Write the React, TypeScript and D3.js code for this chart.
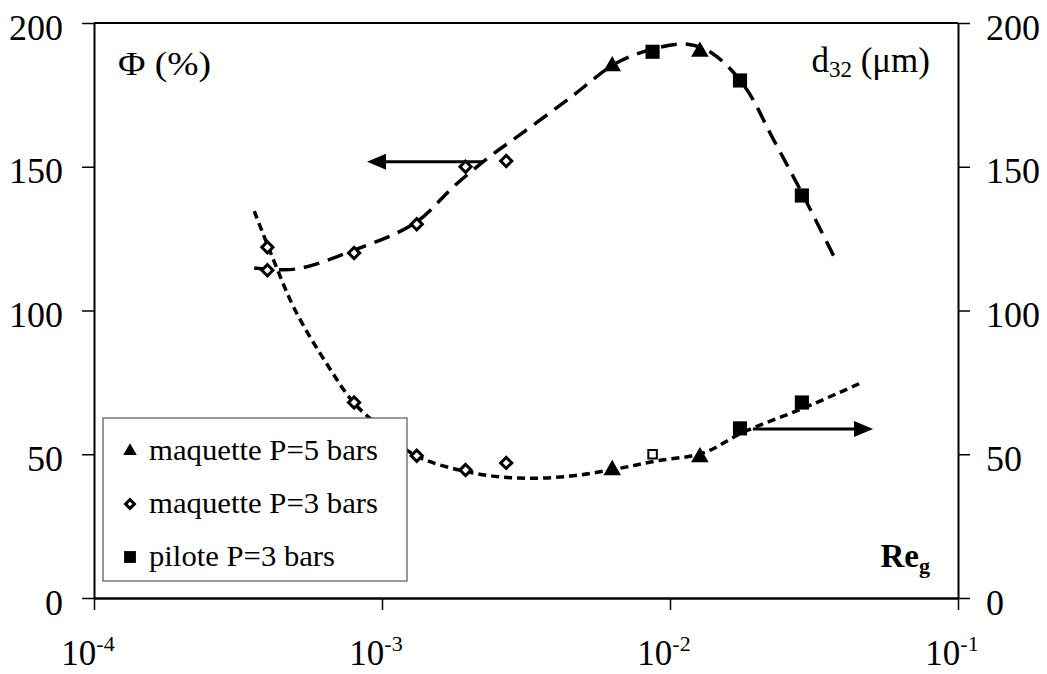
import React, { useEffect, useRef } from 'react';
import * as d3 from 'd3';

// Re_g values of the experiments
const reDiam = [4.0e-4, 8.0e-4, 1.32e-3, 1.95e-3, 2.7e-3];
const reTri = [6.3e-3, 1.27e-2];
const reSq = [8.7e-3, 1.75e-2, 2.87e-2];

// Phi (%) - left axis
const phiDiam = [114, 120, 130, 150, 152];
const phiTri = [185, 190];
const phiSq = [190, 180, 140];

// d32 (um) - right axis
const d32Diam = [122, 68, 49.5, 44.5, 47];
const d32Tri = [44.5, 49];
const d32Sq = [50, 59, 68]; // first one is drawn hollow

// trend curves
const phiFitRe = [3.6e-4, 5e-4, 8e-4, 1.3e-3, 1.8e-3, 2.4e-3, 3e-3, 4.5e-3, 6.5e-3, 9e-3, 1.15e-2, 1.4e-2, 1.8e-2, 2.3e-2, 2.9e-2, 3.7e-2];
const phiFit = [114.8, 114.4, 121, 130.4, 143.7, 154, 161, 174, 186, 191.3, 192.6, 189.5, 178.5, 159, 140, 119];
const d32FitRe = [3.6e-4, 4.2e-4, 5e-4, 6.5e-4, 8e-4, 1e-3, 1.3e-3, 2e-3, 3e-3, 4.5e-3, 6.5e-3, 9e-3, 1.3e-2, 1.8e-2, 2.9e-2, 4.6e-2];
const d32Fit = [134.6, 117.6, 100, 80.7, 67.8, 59, 49.7, 43.8, 41.7, 42.4, 44.9, 47.7, 50.4, 57.7, 66, 74.8];

// arrows [from Re, to Re, value]
const arrowLeft = [2.24e-3, 8.87e-4, 151.7];
const arrowRight = [1.94e-2, 5.07e-2, 58.8];

const xTicks = [1e-4, 1e-3, 1e-2, 1e-1];
const yTicks = [0, 50, 100, 150, 200];
const legendLabels = ['maquette P=5 bars', 'maquette P=3 bars', 'pilote P=3 bars'];

const App = () => {
    const svgRef = useRef<SVGSVGElement>(null);
    const width = 1047;
    const height = 674;
    const margin = { top: 23, right: 89, bottom: 76, left: 94 };

    useEffect(() => {
        const svg = d3.select(svgRef.current);
        svg.selectAll('*').remove();

        const x = d3.scaleLog().domain([1e-4, 1e-1]).range([margin.left, width - margin.right]);
        const y = d3.scaleLinear().domain([0, 200]).range([height - margin.bottom, margin.top]);

        // frame top
        svg.append('line')
            .attr('x1', x(1e-4)).attr('x2', x(1e-1))
            .attr('y1', y(200)).attr('y2', y(200))
            .attr('stroke', '#000').attr('stroke-width', 2);

        // left axis
        const gl = svg.append('g')
            .attr('transform', `translate(${margin.left},0)`)
            .call(d3.axisLeft(y).tickValues(yTicks).tickSize(12).tickSizeOuter(0).tickPadding(19));
        // right axis
        const gr = svg.append('g')
            .attr('transform', `translate(${width - margin.right},0)`)
            .call(d3.axisRight(y).tickValues(yTicks).tickSize(12).tickSizeOuter(0).tickPadding(16));
        [gl, gr].forEach(g => {
            g.attr('font-family', null).attr('font-size', 36);
            g.select('.domain').attr('stroke-width', 2);
            g.selectAll('.tick line').attr('stroke-width', 1.5);
            g.selectAll('.tick text')
                .attr('fill', '#000')
                .attr('dy', '0.45em');
        });

        // bottom axis
        const gb = svg.append('g')
            .attr('transform', `translate(0,${height - margin.bottom})`)
            .call(d3.axisBottom(x).tickValues(xTicks).tickSize(12).tickSizeOuter(0).tickFormat(() => ''));
        gb.attr('font-family', null);
        gb.select('.domain').attr('stroke-width', 2.5);
        gb.selectAll('.tick line').attr('stroke-width', 1.5);

        const xl = svg.append('g')
            .attr('fill', '#000')
            .attr('font-size', 35)
            .selectAll('text')
            .data(xTicks)
            .join('text')
            .attr('x', d => x(d) - 6)
            .attr('y', height - 9)
            .attr('text-anchor', 'middle');
        xl.append('tspan').text('10');
        xl.append('tspan')
            .attr('font-size', 22)
            .attr('dy', -14)
            .text(d => String(Math.round(Math.log10(d))));

        // trend lines
        const line = d3.line<[number, number]>()
            .x(d => x(d[0]))
            .y(d => y(d[1]))
            .curve(d3.curveCatmullRom.alpha(0.5));

        svg.append('path')
            .datum(phiFitRe.map((r, i) => [r, phiFit[i]] as [number, number]))
            .attr('d', line)
            .attr('fill', 'none')
            .attr('stroke', '#000')
            .attr('stroke-width', 3.5)
            .attr('stroke-dasharray', '16 9');

        svg.append('path')
            .datum(d32FitRe.map((r, i) => [r, d32Fit[i]] as [number, number]))
            .attr('d', line)
            .attr('fill', 'none')
            .attr('stroke', '#000')
            .attr('stroke-width', 3.5)
            .attr('stroke-dasharray', '8 5');

        // arrows
        const arrow = (a: number[]) => {
            const x1 = x(a[0]);
            const x2 = x(a[1]);
            const yy = y(a[2]);
            const dir = Math.sign(x2 - x1);
            svg.append('line')
                .attr('x1', x1).attr('x2', x2 - dir * 14)
                .attr('y1', yy).attr('y2', yy)
                .attr('stroke', '#000').attr('stroke-width', 3);
            svg.append('path')
                .attr('d', `M${x2},${yy} L${x2 - dir * 19},${yy - 8} L${x2 - dir * 19},${yy + 8} Z`)
                .attr('fill', '#000');
        };
        arrow(arrowLeft);
        arrow(arrowRight);

        // markers
        const diamond = d3.symbol().type(d3.symbolSquare).size(62);
        const triangle = d3.symbol().type(d3.symbolTriangle).size(135);
        const square = d3.symbol().type(d3.symbolSquare).size(200);
        const hollowSq = d3.symbol().type(d3.symbolSquare).size(72);

        const drawDiam = (vals: number[]) => svg.append('g')
            .selectAll('path')
            .data(reDiam)
            .join('path')
            .attr('d', diamond)
            .attr('transform', (d, i) => `translate(${x(d)},${y(vals[i])}) rotate(45)`)
            .attr('fill', '#fff').attr('stroke', '#000').attr('stroke-width', 3);
        drawDiam(phiDiam);
        drawDiam(d32Diam);

        const drawTri = (vals: number[]) => svg.append('g')
            .selectAll('path')
            .data(reTri)
            .join('path')
            .attr('d', triangle)
            .attr('transform', (d, i) => `translate(${x(d)},${y(vals[i])})`)
            .attr('fill', '#000');
        drawTri(phiTri);
        drawTri(d32Tri);

        svg.append('g')
            .selectAll('path')
            .data(reSq)
            .join('path')
            .attr('d', square)
            .attr('transform', (d, i) => `translate(${x(d)},${y(phiSq[i])})`)
            .attr('fill', '#000');
        svg.append('g')
            .selectAll('path')
            .data(reSq)
            .join('path')
            .attr('d', (d, i) => (i === 0 ? hollowSq() : square()))
            .attr('transform', (d, i) => `translate(${x(d)},${y(d32Sq[i])})`)
            .attr('fill', (d, i) => (i === 0 ? '#fff' : '#000'))
            .attr('stroke', '#000')
            .attr('stroke-width', (d, i) => (i === 0 ? 2 : 0));

        // axis titles
        svg.append('text')
            .attr('x', 118).attr('y', 75)
            .attr('font-size', 33)
            .attr('textLength', 93)
            .attr('lengthAdjust', 'spacingAndGlyphs')
            .text('Φ (%)');

        const tr = svg.append('text')
            .attr('x', 930).attr('y', 72)
            .attr('text-anchor', 'end')
            .attr('font-size', 35);
        tr.append('tspan').text('d');
        tr.append('tspan').attr('font-size', 23).attr('dy', 5).text('32');
        tr.append('tspan').attr('dy', -5).text(' (μm)');

        const tre = svg.append('text')
            .attr('x', 930).attr('y', 567)
            .attr('text-anchor', 'end')
            .attr('font-size', 33)
            .attr('font-weight', 'bold');
        tre.append('tspan').text('Re');
        tre.append('tspan').attr('font-size', 22).attr('dy', 6).text('g');

        // legend
        const textWidths = [229, 229, 186];
        const lg = svg.append('g').attr('transform', 'translate(103,418)');
        lg.append('rect')
            .attr('width', 304).attr('height', 163)
            .attr('fill', '#fff').attr('stroke', '#555').attr('stroke-width', 1.2);
        const rows = lg.selectAll('g.row')
            .data(legendLabels)
            .join('g')
            .attr('class', 'row')
            .attr('transform', (d, i) => `translate(0,${33 + i * 53})`);
        rows.append('path')
            .attr('d', (d, i) => [
                d3.symbol().type(d3.symbolTriangle).size(80)(),
                d3.symbol().type(d3.symbolSquare).size(40)(),
                d3.symbol().type(d3.symbolSquare).size(140)(),
            ][i])
            .attr('transform', (d, i) => `translate(27,0)${i === 1 ? ' rotate(45)' : ''}`)
            .attr('fill', (d, i) => (i === 1 ? '#fff' : '#000'))
            .attr('stroke', '#000')
            .attr('stroke-width', (d, i) => (i === 1 ? 3 : 0));
        rows.append('text')
            .attr('x', 46).attr('y', 9)
            .attr('font-size', 30)
            .attr('textLength', (d, i) => textWidths[i])
            .attr('lengthAdjust', 'spacingAndGlyphs')
            .text(d => d);
    }, []);

    return (
        <svg ref={svgRef} width={width} height={height} fontFamily="Liberation Serif"
            style={{ position: 'absolute', left: 0, top: 0, background: '#fff' }} />
    );
};

export default App;
